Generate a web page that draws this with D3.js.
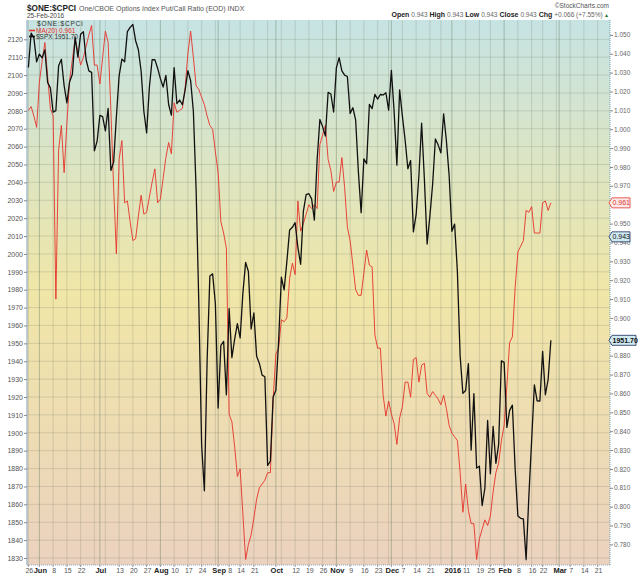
<!DOCTYPE html>
<html lang="en">
<head>
<meta charset="UTF-8">
<title>$ONE:$CPCI</title>
<style>
  * { margin: 0; padding: 0; }
  body { background: #fff; }
  svg text { font-family: 'Liberation Sans', Arial, sans-serif; }
</style>
<script src="https://cdn.jsdelivr.net/npm/d3@7/dist/d3.min.js"></script>
</head>
<body>
<svg id="chart" width="640" height="576"></svg>
<script>
// trading calendar bounds + market holidays
const startDate = '2015-05-26';
const endDate = '2016-03-31';
const holidays = ['2015-07-03', '2015-09-07', '2015-11-26', '2015-12-25', '2016-01-01', '2016-01-18', '2016-02-15', '2016-03-25'];

// $SPX daily close, May 26 2015 .. Feb 25 2016
const spx = [
  2104.20, 2123.48, 2120.79, 2107.39,
  2111.73, 2109.60, 2114.07, 2095.84, 2092.83, 2079.28, 2080.15, 2105.20, 2108.86, 2094.11, 2084.43, 2096.29, 2100.44, 2121.24, 2109.99, 2122.85, 2124.20, 2108.58, 2102.31, 2101.49, 2057.64, 2063.11,
  2077.42, 2076.78, 2068.76, 2081.34, 2046.68, 2051.31, 2076.62, 2099.60, 2108.95, 2107.40, 2124.29, 2126.64, 2128.28, 2119.21, 2114.15, 2102.15, 2079.65, 2067.64, 2093.25, 2108.57, 2108.63, 2103.84,
  2098.04, 2093.32, 2099.84, 2083.56, 2077.57, 2104.18, 2084.07, 2086.05, 2083.39, 2091.54, 2102.44, 2096.92, 2079.61, 2035.73, 1970.89, 1893.21, 1867.61, 1940.51, 1987.66, 1988.87, 1972.18,
  1913.85, 1948.86, 1951.13, 1921.22, 1969.41, 1942.04, 1952.29, 1961.05, 1953.03, 1978.09, 1995.31, 1990.20, 1958.03, 1966.97, 1942.74, 1938.76, 1932.24, 1931.34, 1881.77, 1884.09, 1920.03,
  1923.82, 1951.36, 1987.05, 1979.92, 1995.83, 2013.43, 2014.89, 2017.46, 2003.69, 1994.24, 2023.86, 2033.11, 2033.66, 2030.77, 2018.94, 2052.51, 2075.15, 2071.18, 2065.89, 2090.35, 2089.41, 2079.36,
  2104.05, 2109.79, 2102.31, 2099.93, 2099.20, 2078.58, 2081.72, 2075.00, 2045.97, 2023.04, 2053.19, 2050.44, 2083.58, 2081.24, 2089.17, 2086.59, 2089.14, 2088.87, 2090.11, 2080.41,
  2102.63, 2079.51, 2049.62, 2091.69, 2077.07, 2063.59, 2047.62, 2052.23, 2012.37, 2021.94, 2043.41, 2073.07, 2041.89, 2005.55, 2021.15, 2038.97, 2064.29, 2060.99, 2056.50, 2078.36, 2063.36, 2043.94,
  2012.66, 2016.71, 1990.26, 1943.09, 1922.03, 1923.67, 1938.68, 1890.28, 1921.84, 1880.33, 1881.33, 1859.33, 1868.99, 1906.90, 1877.08, 1903.63, 1882.95, 1893.36, 1940.24,
  1939.38, 1903.03, 1912.53, 1915.45, 1880.05, 1853.44, 1852.21, 1851.86, 1829.08, 1864.78, 1895.58, 1926.82, 1917.83, 1917.78, 1945.50, 1921.27, 1929.80, 1951.70
];

// MA(20) of $CPCI (right axis)
const ma20 = [
  1.010, 1.012, 1.007, 1.001, 1.025, 1.036, 1.046, 1.028, 1.011, 1.007,
  0.910, 0.989, 1.002, 0.977, 1.003, 1.026, 1.037, 1.048, 1.041, 1.034,
  1.038, 1.044, 1.050, 1.055, 1.034, 1.034, 1.024, 1.038, 1.052, 1.046,
  1.010, 0.969, 0.934, 0.984, 0.994, 0.961, 0.962, 0.951, 0.941, 0.942,
  0.954, 0.965, 0.955, 0.956, 0.964, 0.972, 0.979, 0.961, 0.963, 0.974,
  0.985, 0.993, 0.987, 1.014, 1.009, 1.010, 1.011, 1.022, 1.040, 1.052,
  1.038, 1.023, 1.021, 1.017, 1.013, 1.007, 1.002, 1.000, 0.988, 0.977,
  0.951, 0.945, 0.937, 0.849, 0.845, 0.832, 0.816, 0.820, 0.796, 0.772,
  0.780, 0.785, 0.794, 0.804, 0.810, 0.812, 0.814, 0.818, 0.818, 0.857,
  0.881, 0.884, 0.899, 0.898, 0.900, 0.921, 0.929, 0.923, 0.962, 0.946,
  0.950, 0.955, 0.960, 0.958, 0.960, 0.958, 0.992, 0.997, 1.002, 0.984,
  0.978, 0.967, 0.972, 0.972, 0.985, 0.969, 0.948, 0.941, 0.928, 0.915,
  0.912, 0.912, 0.924, 0.936, 0.928, 0.927, 0.891, 0.884, 0.884, 0.859,
  0.848, 0.856, 0.849, 0.844, 0.833, 0.847, 0.853, 0.866, 0.866, 0.858,
  0.878, 0.879, 0.866, 0.875, 0.876, 0.860, 0.858, 0.861, 0.859, 0.857,
  0.854, 0.859, 0.852, 0.843, 0.839, 0.837, 0.835, 0.818, 0.797, 0.812,
  0.798, 0.791, 0.791, 0.772, 0.783, 0.788, 0.793, 0.790, 0.795, 0.808,
  0.818, 0.823, 0.835, 0.843, 0.864, 0.887, 0.890, 0.916, 0.935, 0.938,
  0.941, 0.957, 0.956, 0.959, 0.945, 0.945, 0.945, 0.961, 0.962, 0.957,
  0.961
];
const lastCpci = 0.943;

const leftTicks = [1830, 1840, 1850, 1860, 1870, 1880, 1890, 1900, 1910, 1920, 1930, 1940, 1950, 1960, 1970,
  1980, 1990, 2000, 2010, 2020, 2030, 2040, 2050, 2060, 2070, 2080, 2090, 2100, 2110, 2120];
const rightTicks = [0.780, 0.790, 0.800, 0.810, 0.820, 0.830, 0.840, 0.850, 0.860, 0.870, 0.880, 0.890, 0.900, 0.910,
  0.920, 0.930, 0.940, 0.950, 0.960, 0.970, 0.980, 0.990, 1.000, 1.010, 1.020, 1.030, 1.040, 1.050];
const tickDates = ['2015-05-26', '2015-06-01', '2015-06-08', '2015-06-15', '2015-06-22', '2015-07-01', '2015-07-13', '2015-07-20',
  '2015-07-27', '2015-08-03', '2015-08-10', '2015-08-17', '2015-08-24', '2015-09-01', '2015-09-08', '2015-09-14', '2015-09-21',
  '2015-10-01', '2015-10-12', '2015-10-19', '2015-10-26', '2015-11-02', '2015-11-09', '2015-11-16', '2015-11-23', '2015-12-01',
  '2015-12-07', '2015-12-14', '2015-12-21', '2016-01-04', '2016-01-11', '2016-01-19', '2016-01-25', '2016-02-01', '2016-02-08',
  '2016-02-16', '2016-02-22', '2016-03-01', '2016-03-07', '2016-03-14', '2016-03-21'];
const tickLabels = ['26', 'Jun', '8', '15', '22', 'Jul', '13', '20', '27', 'Aug', '10', '17', '24', 'Sep', '8', '14', '21',
  'Oct', '12', '19', '26', 'Nov', '9', '16', '23', 'Dec', '7', '14', '21', '2016', '11', '19', '25', 'Feb', '8', '16', '22',
  'Mar', '7', '14', '21'];
const boldLabels = ['Jun', 'Jul', 'Aug', 'Sep', 'Oct', 'Nov', 'Dec', '2016', 'Feb', 'Mar'];

const plot = { left: 27, right: 610, top: 20, bottom: 565 };

function tradingDays() {
  const out = [];
  const d = new Date(startDate + 'T00:00:00Z');
  const end = new Date(endDate + 'T00:00:00Z');
  while (d <= end) {
    const iso = d.toISOString().slice(0, 10);
    const dow = d.getUTCDay();
    if (dow !== 0 && dow !== 6 && !holidays.includes(iso)) out.push(iso);
    d.setUTCDate(d.getUTCDate() + 1);
  }
  return out;
}

const days = tradingDays();
const svg = d3.select('#chart');

const x = d3.scaleLinear().domain([-0.5, 211.5]).range([plot.left, plot.right]);
const yL = d3.scaleLinear().domain([1830, 2120]).range([558, 39.3]);
const yR = d3.scaleLinear().domain([0.78, 1.05]).range([544.4, 34.9]);

// value tags at the right edge (also used to hide axis labels behind them)
const tags = [
  { y: yR(ma20[ma20.length - 1]), label: ma20[ma20.length - 1].toFixed(3), stroke: '#e5322a', fill: '#fbeaea', color: '#e5322a', w: 21, bold: false },
  { y: yR(lastCpci), label: lastCpci.toFixed(3), stroke: '#1c2c5c', fill: '#cfeaf2', color: '#111', w: 21, bold: false },
  { y: yL(spx[spx.length - 1]), label: spx[spx.length - 1].toFixed(2), stroke: '#1c2c5c', fill: '#cfeaf2', color: '#111', w: 27, bold: true }
];

// background gradient
const defs = svg.append('defs');
const grad = defs.append('linearGradient').attr('id', 'bg').attr('x1', 0).attr('y1', 0).attr('x2', 0).attr('y2', 1);
grad.append('stop').attr('offset', '0%').attr('stop-color', '#c6e3e3');
grad.append('stop').attr('offset', '50%').attr('stop-color', '#f0e6a7');
grad.append('stop').attr('offset', '100%').attr('stop-color', '#ebd2bf');
defs.append('clipPath').attr('id', 'clip').append('rect')
  .attr('x', plot.left).attr('y', plot.top)
  .attr('width', plot.right - plot.left).attr('height', plot.bottom - plot.top);

svg.append('rect')
  .attr('x', plot.left).attr('y', plot.top)
  .attr('width', plot.right - plot.left).attr('height', plot.bottom - plot.top)
  .attr('fill', 'url(#bg)');

// grid
const grid = svg.append('g');
grid.selectAll('line.h').data(leftTicks).join('line')
  .attr('x1', plot.left).attr('x2', plot.right)
  .attr('y1', d => yL(d)).attr('y2', d => yL(d))
  .attr('stroke', 'rgba(110,120,100,0.22)').attr('stroke-width', 1);

const vLines = [];
days.forEach((d, i) => {
  if (i > 211) return;
  const dt = new Date(d + 'T00:00:00Z');
  const prev = i > 0 ? new Date(days[i - 1] + 'T00:00:00Z') : null;
  const monthStart = !prev || dt.getUTCMonth() !== prev.getUTCMonth();
  const weekStart = !prev || dt.getUTCDay() <= prev.getUTCDay();
  if (i === 0 || monthStart || weekStart) vLines.push({ i, month: monthStart && i > 0 });
});
grid.selectAll('line.v').data(vLines.filter(v => x(v.i) < plot.right - 2)).join('line')
  .attr('x1', d => x(d.i)).attr('x2', d => x(d.i))
  .attr('y1', plot.top).attr('y2', plot.bottom)
  .attr('stroke', d => d.month ? 'rgba(100,125,100,0.42)' : 'rgba(110,120,100,0.22)')
  .attr('stroke-width', 1);

// axes
svg.append('line').attr('x1', plot.left).attr('x2', plot.left).attr('y1', plot.top).attr('y2', plot.bottom)
  .attr('stroke', '#a9bfcf').attr('stroke-width', 1.5);
svg.append('line').attr('x1', plot.right).attr('x2', plot.right).attr('y1', plot.top).attr('y2', plot.bottom)
  .attr('stroke', '#6f9fbf').attr('stroke-dasharray', '1,1');
svg.append('line').attr('x1', plot.left).attr('x2', plot.right).attr('y1', plot.bottom).attr('y2', plot.bottom)
  .attr('stroke', '#8fa9bb').attr('stroke-dasharray', '1,1');

const leftAxis = d3.axisLeft(yL).tickValues(leftTicks).tickSize(3).tickPadding(1).tickFormat(d3.format('d'));
svg.append('g').attr('transform', `translate(${plot.left},0)`).call(leftAxis)
  .call(g => g.select('.domain').remove())
  .call(g => g.selectAll('line').attr('stroke', '#888'))
  .call(g => g.selectAll('text').attr('fill', '#555').attr('font-size', 7).attr('font-family', 'Liberation Sans, Arial, sans-serif'));

const rightAxis = d3.axisRight(yR).tickValues(rightTicks).tickSize(3).tickPadding(1).tickFormat(d3.format('.3f'));
svg.append('g').attr('transform', `translate(${plot.right},0)`).call(rightAxis)
  .call(g => g.select('.domain').remove())
  .call(g => g.selectAll('line').attr('stroke', '#888'))
  .call(g => g.selectAll('text').attr('fill', '#666').attr('font-size', 6.5).attr('font-family', 'Liberation Sans, Arial, sans-serif'))
  // labels sitting under a value tag are covered in the original
  .call(g => g.selectAll('.tick text').attr('display', d => tags.some(t => Math.abs(yR(d) - t.y) < 5) ? 'none' : null));

// date labels
const dateAxis = svg.append('g');
tickDates.forEach((d, k) => {
  const i = days.indexOf(d);
  const bold = boldLabels.includes(tickLabels[k]);
  dateAxis.append('line')
    .attr('x1', x(i)).attr('x2', x(i)).attr('y1', plot.bottom).attr('y2', plot.bottom + 2)
    .attr('stroke', '#999');
  dateAxis.append('text')
    .attr('x', x(i) + 1).attr('y', 573)
    .attr('text-anchor', 'middle')
    .attr('font-size', bold ? 7.5 : 7)
    .attr('font-weight', bold ? 'bold' : 'normal')
    .attr('fill', bold ? '#222' : '#555')
    .text(tickLabels[k]);
});

// lines
const lines = svg.append('g').attr('clip-path', 'url(#clip)');
lines.append('path').datum(ma20)
  .attr('fill', 'none').attr('stroke', '#e5322a').attr('stroke-width', 0.9)
  .attr('d', d3.line().x((d, i) => x(i)).y(d => yR(d)));
lines.append('path').datum(spx)
  .attr('fill', 'none').attr('stroke', '#111').attr('stroke-width', 1.3).attr('stroke-linejoin', 'round')
  .attr('d', d3.line().x((d, i) => x(i)).y(d => yL(d)));

tags.forEach(t => {
  const g = svg.append('g');
  const h = 10, x0 = plot.right - 1;
  g.append('path')
    .attr('d', `M${x0},${t.y} L${x0 + 3},${t.y - h / 2} L${x0 + t.w},${t.y - h / 2} L${x0 + t.w},${t.y + h / 2} L${x0 + 3},${t.y + h / 2} Z`)
    .attr('fill', t.fill).attr('stroke', t.stroke).attr('stroke-width', 0.8);
  g.append('text')
    .attr('x', x0 + 3.5).attr('y', t.y + 2.5)
    .attr('font-size', 7).attr('font-weight', t.bold ? 'bold' : 'normal')
    .attr('fill', t.color).text(t.label);
});

// legend
const lg = svg.append('g').attr('font-size', 6.5);
lg.append('text').attr('x', 37).attr('y', 25.5).attr('fill', '#333').attr('letter-spacing', 0.8).text('$ONE:$CPCI');
lg.append('line').attr('x1', 29).attr('x2', 35).attr('y1', 30.5).attr('y2', 30.5).attr('stroke', '#e5322a').attr('stroke-width', 1.6);
lg.append('text').attr('x', 36).attr('y', 33).attr('fill', '#e5322a')
  .text('MA(20) ' + ma20[ma20.length - 1].toFixed(3));
lg.append('line').attr('x1', 29).attr('x2', 35).attr('y1', 36.5).attr('y2', 36.5).attr('stroke', '#111').attr('stroke-width', 1.6);
lg.append('text').attr('x', 36).attr('y', 39).attr('fill', '#333')
  .text('$SPX ' + spx[spx.length - 1].toFixed(2));

// header
svg.append('text').attr('x', 27).attr('y', 10.5)
  .attr('font-size', 8.2).attr('font-weight', 'bold').attr('fill', '#222')
  .text('$ONE:$CPCI');
svg.append('text').attr('x', 79).attr('y', 10.5)
  .attr('font-size', 7).attr('fill', '#555')
  .text('One/CBOE Options Index Put/Call Ratio (EOD)  INDX');
svg.append('text').attr('x', 27).attr('y', 17.5)
  .attr('font-size', 6.5).attr('fill', '#444').text('25-Feb-2016');
svg.append('text').attr('x', 609).attr('y', 7.5).attr('text-anchor', 'end')
  .attr('font-size', 6.5).attr('fill', '#555').text('©StockCharts.com');

const ohlc = svg.append('text').attr('x', 609).attr('y', 17).attr('text-anchor', 'end').attr('font-size', 7);
[['Open', '0.943'], ['High', '0.943'], ['Low', '0.943'], ['Close', '0.943'], ['Chg', '+0.066 (+7.55%)']].forEach(([k, v], j) => {
  ohlc.append('tspan').attr('font-weight', 'bold').attr('fill', '#222').text((j ? '  ' : '') + k + ' ');
  ohlc.append('tspan').attr('fill', '#666').attr('font-size', 6.5).text(v);
});
ohlc.append('tspan').attr('fill', '#1a7a2a').attr('font-size', 5).text(' ▲');
</script>
</body>
</html>
